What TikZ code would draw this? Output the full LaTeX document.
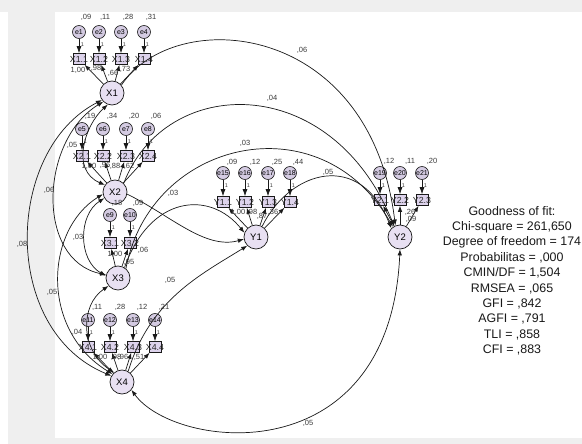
\documentclass[tikz,border=0pt]{standalone}
\usepackage{fontspec}
\setmainfont{Liberation Sans}
\usetikzlibrary{arrows.meta}
\definecolor{bgg}{HTML}{EFEFEF}
\definecolor{latf}{HTML}{E8E0F2}
\definecolor{boxf}{HTML}{DDD3EC}
\definecolor{errf}{HTML}{D4CBE2}
\definecolor{numc}{HTML}{3A3A3A}
\definecolor{linec}{HTML}{1A1A1A}
\newcommand{\mvind}[6]{%
  \node[ibox,label={[blbl]center:#5}] (b#1) at (#2,#3) {};
  \node[errc] (e#1) at (#2,#4) {#6};
  \draw[ea] (e#1) -- (b#1);
  \node[onel] at ({#2+3.5},{#4+12.5}) {1};
}
\begin{document}
\begin{tikzpicture}[x=1pt,y=-1pt,
 lat/.style={circle,draw=linec,line width=0.7pt,fill=latf,minimum size=24pt,inner sep=0pt,font=\fontsize{9.5}{9.5}\selectfont},
 ibox/.style={rectangle,draw=linec,line width=0.6pt,fill=boxf,minimum width=12pt,minimum height=11pt,inner sep=0pt},
 blbl/.style={font=\fontsize{8.8}{8.8}\selectfont,inner sep=0pt,text=black!85},
 errc/.style={circle,draw=linec,line width=0.6pt,fill=errf,minimum size=13pt,inner sep=0pt,font=\fontsize{7}{7}\selectfont},
 num/.style={font=\fontsize{7.5}{7.5}\selectfont,text=numc,inner sep=0pt},
 onel/.style={font=\fontsize{5.5}{5.5}\selectfont,text=numc,inner sep=0pt},
 fit/.style={font=\fontsize{12.4}{12.4}\selectfont,text=black!90,inner sep=0pt,anchor=base},
 ea/.style={-{Latex[length=7pt,width=5pt]},line width=0.7pt,draw=linec},
 pa/.style={-{Latex[length=6pt,width=4.5pt]},line width=0.7pt,draw=linec},
 ca/.style={{Latex[length=6pt,width=4.5pt]}-{Latex[length=6pt,width=4.5pt]},line width=0.7pt,draw=linec},
]
\useasboundingbox (0,0) rectangle (582,444);
\fill[bgg] (0,0) rectangle (582,444);
\fill[white] (55,12) rectangle (582,438);
\fill[white] (0,12) rectangle (8,444);

% latent variables
\node[lat] (X1) at (112,93) {X1};
\node[lat] (X2) at (115,192) {X2};
\node[lat] (X3) at (118,278) {X3};
\node[lat] (X4) at (122,382) {X4};
\node[lat] (Y1) at (256,237) {Y1};
\node[lat] (Y2) at (400,237) {Y2};

% indicators with errors
\mvind{11}{79}{59}{32}{X1.1}{e1}
\mvind{12}{99}{59}{32}{X1.2}{e2}
\mvind{13}{121}{59}{32}{X1.3}{e3}
\mvind{14}{144}{59}{32}{X1.4}{e4}
\mvind{21}{82}{156}{129}{X2.1}{e5}
\mvind{22}{103}{156}{129}{X2.2}{e6}
\mvind{23}{126}{156}{129}{X2.3}{e7}
\mvind{24}{148}{156}{129}{X2.4}{e8}
\mvind{31}{110}{243}{215}{X3.1}{e9}
\mvind{32}{130}{243}{215}{X3.2}{e10}
\mvind{41}{88}{347}{320}{X4.1}{e11}
\mvind{42}{110}{347}{320}{X4.2}{e12}
\mvind{43}{133}{347}{320}{X4.3}{e13}
\mvind{44}{155}{347}{320}{X4.4}{e14}
\mvind{51}{223}{202}{173}{Y1.1}{e15}
\mvind{52}{245}{202}{173}{Y1.2}{e16}
\mvind{53}{268}{202}{173}{Y1.3}{e17}
\mvind{54}{290}{202}{173}{Y1.4}{e18}
\mvind{61}{380}{200}{173}{Y2.1}{e19}
\mvind{62}{400}{200}{173}{Y2.2}{e20}
\mvind{63}{422}{200}{173}{Y2.3}{e21}

% loadings
\foreach \i in {11,12,13,14} \draw[pa] (X1) -- (b\i);
\foreach \i in {21,22,23,24} \draw[pa] (X2) -- (b\i);
\foreach \i in {31,32} \draw[pa] (X3) -- (b\i);
\foreach \i in {41,42,43,44} \draw[pa] (X4) -- (b\i);
\foreach \i in {51,52,53,54} \draw[pa] (Y1) -- (b\i);
\foreach \i in {61,62,63} \draw[pa] (Y2) -- (b\i);

% variances
\node[num] at (86,17) {,09};
\node[num] at (105,17) {,11};
\node[num] at (128,17) {,28};
\node[num] at (151,17) {,31};
\node[num] at (90,116) {,19};
\node[num] at (112,116) {,34};
\node[num] at (134,116) {,20};
\node[num] at (156,116) {,06};
\node[num] at (117,203) {,18};
\node[num] at (138,203) {,09};
\node[num] at (97,307) {,11};
\node[num] at (120,307) {,28};
\node[num] at (142,307) {,12};
\node[num] at (164,307) {,21};
\node[num] at (232,162) {,09};
\node[num] at (255,162) {,12};
\node[num] at (277,162) {,25};
\node[num] at (298,162) {,44};
\node[num] at (389,161) {,12};
\node[num] at (410,161) {,11};
\node[num] at (432,161) {,20};

% loading values
\node[num] at (78,70) {1,00};
\node[num] at (96,68) {,98};
\node[num] at (113,73) {,66};
\node[num] at (125,69) {,73};
\node[num] at (89,166) {1,00};
\node[num] at (105,165) {,96};
\node[num] at (115,166) {,88};
\node[num] at (129,166) {,62};
\node[num] at (115,254) {1,00};
\node[num] at (129,262) {,95};
\node[num] at (143,250) {,06};
\node[num] at (100,357) {1,00};
\node[num] at (116,357) {,98};
\node[num] at (123,357) {,96};
\node[num] at (139,357) {,51};
\node[num] at (238,212) {1,00};
\node[num] at (252,212) {,98};
\node[num] at (262,216) {,87};
\node[num] at (273,212) {,36};
\node[num] at (410,212) {,26};
\node[num] at (411,219) {,09};

% structural paths
\draw[pa] (X1.40) .. controls (175,5) and (370,20) .. (Y2.112);
\draw[pa] (X2.45) .. controls (165,75) and (330,70) .. (Y2.118);
\draw[pa] (X3.50) .. controls (150,140) and (320,100) .. (Y2.125);
\draw[pa] (Y1.60) .. controls (290,170) and (360,150) .. (Y2.135);
\draw[pa] (X2.-10) .. controls (170,215) and (205,250) .. (Y1.190);
\draw[pa] (X3.58) .. controls (150,195) and (210,190) .. (Y1.160);
\draw[pa] (X4.60) .. controls (150,300) and (200,275) .. (Y1.225);
\draw[ca] (X4.-40) .. controls (175,450) and (390,475) .. (Y2.-90);

% covariances
\draw[ca] (X1.215) .. controls (5,150) and (0,330) .. (X4.150);
\draw[ca] (X1.225) .. controls (40,140) and (35,260) .. (X3.165);
\draw[ca] (X2.145) .. controls (70,170) and (85,125) .. (X1.250);
\draw[ca] (X2.210) .. controls (78,215) and (78,260) .. (X3.170);
\draw[ca] (X2.190) .. controls (45,230) and (40,330) .. (X4.140);
\draw[ca] (X3.220) .. controls (80,305) and (80,350) .. (X4.130);

% path / covariance labels
\node[num] at (302,50) {,06};
\node[num] at (272,98) {,04};
\node[num] at (245,143) {,03};
\node[num] at (328,172) {,05};
\node[num] at (173,193) {,03};
\node[num] at (170,280) {,05};
\node[num] at (308,423) {,05};
\node[num] at (72,145) {,05};
\node[num] at (49,190) {,06};
\node[num] at (22,244) {,08};
\node[num] at (78,237) {,03};
\node[num] at (52,292) {,05};
\node[num] at (77,332) {,04};

% goodness of fit
\node[fit] at (512,215.0) {Goodness of fit:};
\node[fit] at (512,230.4) {Chi-square = 261,650};
\node[fit] at (512,245.8) {Degree of freedom = 174};
\node[fit] at (512,261.2) {Probabilitas = ,000};
\node[fit] at (512,276.6) {CMIN/DF = 1,504};
\node[fit] at (512,292.0) {RMSEA = ,065};
\node[fit] at (512,307.4) {GFI = ,842};
\node[fit] at (512,322.8) {AGFI = ,791};
\node[fit] at (512,338.2) {TLI = ,858};
\node[fit] at (512,353.6) {CFI = ,883};
\end{tikzpicture}
\end{document}
